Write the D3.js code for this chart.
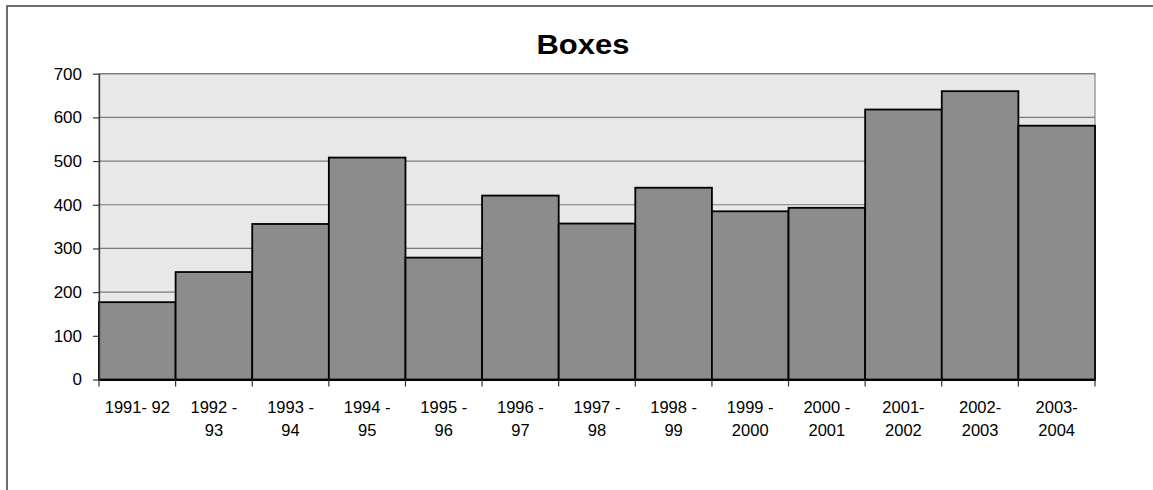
<!DOCTYPE html>
<html>
<head>
<meta charset="utf-8">
<script src="https://cdn.jsdelivr.net/npm/d3@7"></script>
<style>
  html, body { margin: 0; padding: 0; background: #fff; }
  svg { display: block; }
  text { font-family: "Liberation Sans", Arial, sans-serif; fill: #000; }
</style>
</head>
<body>
<svg id="chart" width="1153" height="490"></svg>
<script>
// Seasons (category keys) and their two-line axis labels
const categories = ["1991-92", "1992-93", "1993-94", "1994-95", "1995-96", "1996-97",
  "1997-98", "1998-99", "1999-2000", "2000-2001", "2001-2002", "2002-2003", "2003-2004"];
const categoryLabels = [
  ["1991- 92"], ["1992 -", "93"], ["1993 -", "94"], ["1994 -", "95"], ["1995 -", "96"],
  ["1996 -", "97"], ["1997 -", "98"], ["1998 -", "99"], ["1999 -", "2000"],
  ["2000 -", "2001"], ["2001-", "2002"], ["2002-", "2003"], ["2003-", "2004"]
];
// Number of boxes per season
const boxes = [177, 246, 356, 508, 279, 421, 357, 439, 385, 393, 618, 660, 581];
const yTicks = [0, 100, 200, 300, 400, 500, 600, 700];
const title = "Boxes";

const svg = d3.select("#chart");
const plot = { left: 99, right: 1095, top: 73.7, bottom: 379.5 };

// Outer chart frame (runs off the right and bottom edges)
svg.append("rect")
  .attr("x", 7).attr("y", 6).attr("width", 1200).attr("height", 600)
  .attr("fill", "none").attr("stroke", "#333").attr("stroke-width", 1.4);

const x = d3.scaleBand().domain(categories).range([plot.left, plot.right]).padding(0);
const y = d3.scaleLinear().domain([0, 700]).range([plot.bottom, plot.top]);

// Plot background
svg.append("rect")
  .attr("x", plot.left).attr("y", plot.top)
  .attr("width", plot.right - plot.left).attr("height", plot.bottom - plot.top)
  .attr("fill", "#e8e8e8").attr("stroke", "#888").attr("stroke-width", 1.2);

// Horizontal gridlines
svg.append("g").selectAll("line")
  .data(yTicks.filter(d => d > 0))
  .join("line")
  .attr("x1", plot.left).attr("x2", plot.right)
  .attr("y1", d => y(d)).attr("y2", d => y(d))
  .attr("stroke", "#7a7a7a").attr("stroke-width", 1.2);

// Bars
svg.append("g").selectAll("rect")
  .data(boxes)
  .join("rect")
  .attr("x", (d, i) => x(categories[i]))
  .attr("y", d => y(d))
  .attr("width", x.bandwidth())
  .attr("height", d => y(0) - y(d))
  .attr("fill", "#8c8c8c")
  .attr("stroke", "#000").attr("stroke-width", 1.8);

// Y axis
const yAxis = svg.append("g")
  .attr("transform", `translate(${plot.left},0)`)
  .call(d3.axisLeft(y).tickValues(yTicks).tickSize(6).tickPadding(11).tickSizeOuter(0));
yAxis.select(".domain").attr("stroke", "#333").attr("stroke-width", 1.3);
yAxis.selectAll(".tick line").attr("stroke", "#333").attr("stroke-width", 1.2);
yAxis.selectAll(".tick text")
  .attr("font-size", 17).attr("font-family", "Liberation Sans, Arial, sans-serif")
  .attr("fill", "#000");

// X axis: ticks at band boundaries
const xAxis = svg.append("g")
  .attr("transform", `translate(0,${plot.bottom})`)
  .call(d3.axisBottom(x).tickSize(0).tickFormat(""));
xAxis.select(".domain").attr("stroke", "#000").attr("stroke-width", 1.9);
const edges = categories.map(c => x(c)).concat([x(categories[categories.length - 1]) + x.bandwidth()]);
xAxis.selectAll(".edge")
  .data(edges)
  .join("line")
  .attr("class", "edge")
  .attr("x1", d => d).attr("x2", d => d)
  .attr("y1", 0).attr("y2", 7)
  .attr("stroke", "#333").attr("stroke-width", 1.2);

// Category labels (one or two lines each)
const labelGroup = svg.append("g");
categoryLabels.forEach((lines, i) => {
  const cx = x(categories[i]) + x.bandwidth() / 2;
  const t = labelGroup.append("text")
    .attr("text-anchor", "middle")
    .attr("font-size", 16.5);
  lines.forEach((ln, j) => {
    t.append("tspan")
      .attr("x", cx)
      .attr("y", plot.bottom + 33 + j * 23)
      .text(ln);
  });
});

// Title (slightly widened bold text)
svg.append("text")
  .attr("x", 583).attr("y", 54.3)
  .attr("text-anchor", "middle")
  .attr("font-size", 27).attr("font-weight", "bold")
  .attr("textLength", 93).attr("lengthAdjust", "spacingAndGlyphs")
  .text(title);
</script>
</body>
</html>
